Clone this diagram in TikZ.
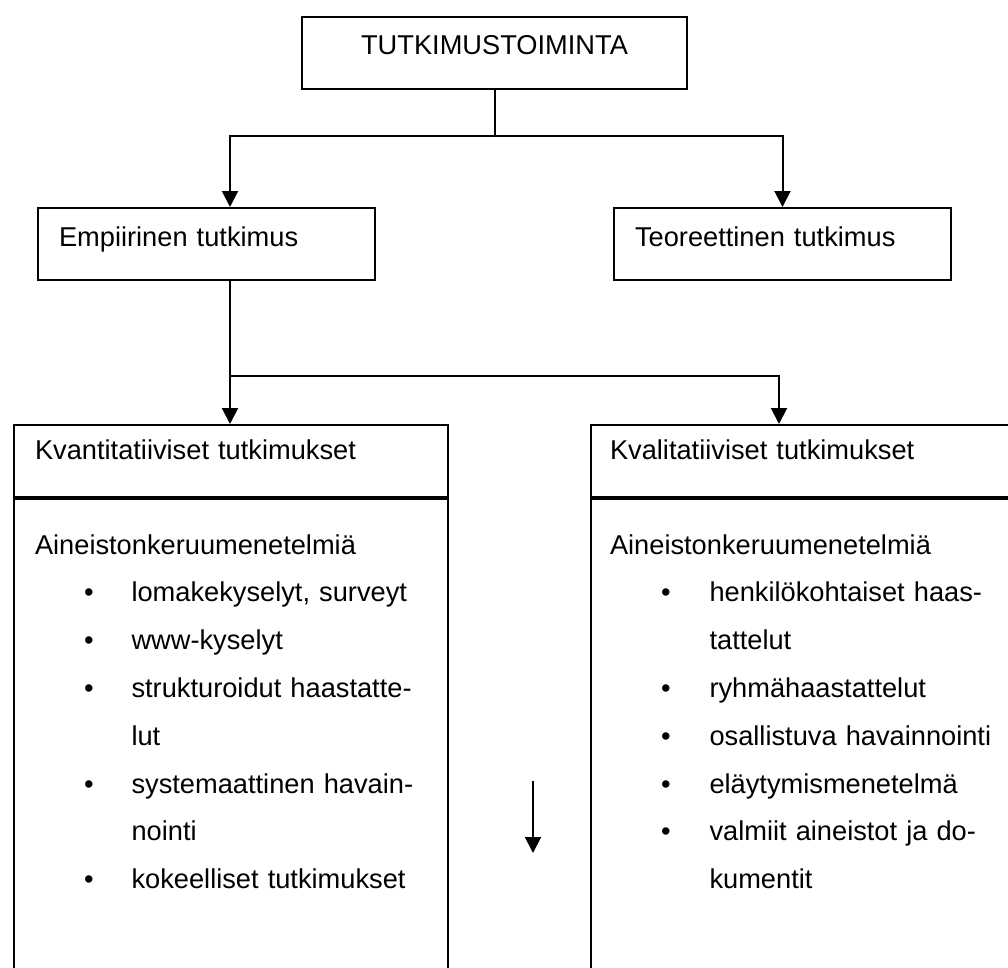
\documentclass[tikz,border=0pt]{standalone}
\usepackage{fontspec}
\setmainfont{Liberation Sans}
\usetikzlibrary{arrows.meta}
\tikzset{
  box/.style={draw, line width=0.4mm, inner ysep=0pt, inner xsep=4.2mm, align=left,
    font=\fontsize{15.5pt}{27.2pt}\selectfont},
  conn/.style={line width=0.4mm},
  arr/.style={line width=0.4mm, -{Triangle[length=3.2mm,width=3.2mm]}}
}

\begin{document}
\begin{tikzpicture}[x=0.2mm,y=-0.2mm]
	%%%%% START %%%%%
	\def\rowa{136}
	\def\rowb{376}
	\def\cola{230}
	\def\colb{779}
	\clip (0,0) rectangle (1008,968);

	\coordinate (rowA) at (0,\rowa);
	\coordinate (rowB) at (0,\rowb);
	\coordinate (colA) at (\cola,0);
	\coordinate (colB) at (\colb,0);

	\node[box, anchor=north west, inner xsep=0pt, minimum width=77mm, text height=7.4mm, text depth=7mm] (top) at (301,16) {TUTKIMUSTOIMINTA};

	\node[box, anchor=north west, text width=59mm, text height=7.6mm, text depth=6.8mm] (emp) at (37,207) {Empiirinen tutkimus};
	\node[box, anchor=north west, text width=59mm, text height=7.6mm, text depth=6.8mm] (teo) at (613,207) {Teoreettinen tutkimus};

	\node[box, anchor=north west, text width=78.4mm, text height=6.8mm, text depth=7.6mm] (kvant) at (13,424) {Kvantitatiiviset tutkimukset};
	\node[box, anchor=north west, text width=78.4mm, text height=11mm, text depth=89.8mm] (kvantbody) at (kvant.south west) {%
		\begin{tabular}[t]{@{\hspace{9.8mm}}l@{\hspace{7.6mm}}l@{}}
			\multicolumn{2}{@{}l@{}}{Aineistonkeruumenetelmiä}\\
			\textbullet & lomakekyselyt, surveyt\\
			\textbullet & www-kyselyt\\
			\textbullet & strukturoidut haastatte-\\
			            & lut\\
			\textbullet & systemaattinen havain-\\
			            & nointi\\
			\textbullet & kokeelliset tutkimukset
		\end{tabular}};

	\node[box, anchor=north west, inner xsep=3.8mm, text width=79.2mm, text height=6.8mm, text depth=7.6mm] (kval) at (590,424) {Kvalitatiiviset tutkimukset};
	\node[box, anchor=north west, inner xsep=3.8mm, text width=79.2mm, text height=11mm, text depth=89.8mm] (kvalbody) at (kval.south west) {%
		\begin{tabular}[t]{@{\hspace{10.2mm}}l@{\hspace{7.8mm}}l@{}}
			\multicolumn{2}{@{}l@{}}{Aineistonkeruumenetelmiä}\\
			\textbullet & henkilökohtaiset haas-\\
			            & tattelut\\
			\textbullet & ryhmähaastattelut\\
			\textbullet & osallistuva havainnointi\\
			\textbullet & eläytymismenetelmä\\
			\textbullet & valmiit aineistot ja do-\\
			            & kumentit
		\end{tabular}};

	% connectors
	\draw[conn] (top.south) -- (top.south |- rowA);
	\draw[arr] (top.south |- rowA) -| (colA |- emp.north);
	\draw[arr] (top.south |- rowA) -| (teo.north);
	\draw[arr] (colA |- emp.south) -- (colA |- kvant.north);
	\draw[arr] (colA |- rowB) -| (colB |- kval.north);

	\coordinate (midtop) at (533,781);
	\coordinate (midbot) at (533,853);
	\draw[arr] (midtop) -- (midbot);
	%%%%% START %%%%%
\end{tikzpicture}
\end{document}
